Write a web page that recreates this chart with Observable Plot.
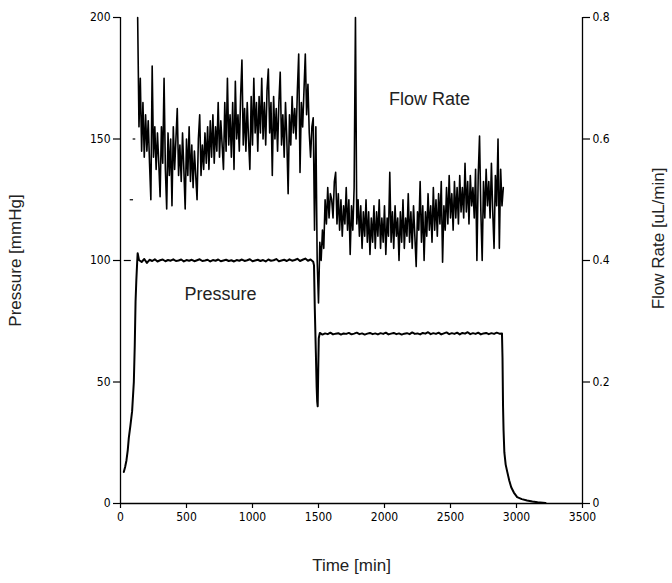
<!DOCTYPE html>
<html><head><meta charset="utf-8">
<script src="https://cdn.jsdelivr.net/npm/d3@7"></script>
<script src="https://cdn.jsdelivr.net/npm/@observablehq/plot@0.6"></script>
<style>
body{margin:0;background:#fff}
#chart{position:relative;width:672px;height:583px}
#chart svg{position:absolute;left:0;top:0}
</style>
</head><body><div id="chart"></div>
<script>
// ---- axes ----
const xTicks = [0, 500, 1000, 1500, 2000, 2500, 3000, 3500];
const pressureTicks = [0, 50, 100, 150, 200];
const flowTicks = [0, 0.2, 0.4, 0.6, 0.8];
const xTitle = "Time [min]";
const pressureTitle = "Pressure [mmHg]";
const flowTitle = "Flow Rate [uL/min]";

// ---- series labels in plot ----
const pressureLabel = {text: "Pressure", t: 758, v: 86};
const flowLabel = {text: "Flow Rate", t: 2341, v: 0.665};

// ---- pressure (mmHg) ----
const pressureTime = [
  25,35,45,55,63,75,88,101,108,114,120,126,130,
  140,160,180,200,220,240,260,280,300,320,340,360,380,400,420,440,460,480,500,520,540,560,580,600,620,640,660,680,700,720,740,760,780,800,820,840,860,880,900,920,940,960,980,1000,1020,1040,1060,1080,1100,1120,1140,1160,1180,1200,1220,1240,1260,1280,1300,1320,1340,1360,1380,1400,1420,1440,1460,
  1466,1472,1480,1486,1490,1494,1498,1502,
  1510,1530,1550,1570,1590,1610,1630,1650,1670,1690,1710,1730,1750,1770,1790,1810,1830,1850,1870,1890,1910,1930,1950,1970,1990,2010,2030,2050,2070,2090,2110,2130,2150,2170,2190,2210,2230,2250,2270,2290,2310,2330,2350,2370,2390,2410,2430,2450,2470,2490,2510,2530,2550,2570,2590,2610,2630,2650,2670,2690,2710,2730,2750,2770,2790,2810,2830,2850,2870,2890,
  2894,2898,2902,2908,2918,2930,2945,2960,2980,3005,3040,3080,3120,3160,3220
];
const pressureValue = [
  13,15,17.7,22,27,32,38,50,65,83,92,99,103,
  100.2,99.4,100.6,99.0,100.3,99.8,100.5,99.6,100.1,100.4,
  99.7,100.2,99.9,100.5,99.8,100.0,100.4,99.6,100.2,99.9,
  100.3,99.7,100.1,100.5,99.8,100.0,100.3,99.6,100.2,99.9,
  100.4,99.7,100.0,100.3,99.8,100.1,99.6,100.2,99.9,100.4,
  99.8,100.1,100.5,99.7,100.0,100.3,99.8,100.2,99.6,100.4,
  99.9,100.1,100.6,99.7,100.0,100.3,99.8,100.5,99.9,100.2,
  100.7,99.8,100.3,100.8,99.9,100.4,99.5,
  98,80,62,48,42,40,55,68,
  70.2,69.5,70.0,69.7,70.3,69.6,69.9,70.1,69.5,70.0,
  69.8,70.2,69.6,69.9,70.3,69.7,70.0,69.5,69.9,70.2,
  69.7,70.0,69.6,70.1,69.8,70.3,69.6,69.9,70.2,69.7,
  70.0,69.5,69.9,70.1,69.7,70.4,69.8,70.0,69.6,70.2,
  69.9,70.5,69.7,70.1,69.8,70.3,69.6,70.0,70.4,69.7,
  70.1,69.8,70.3,69.6,70.2,69.9,70.5,69.7,70.1,69.8,
  70.3,69.6,70.0,70.2,69.7,70.1,69.8,70.3,69.9,70.0,
  60,40,30,21,16,13,9.5,6.7,4.5,2.6,1.8,1.2,0.8,0.5,0.2
];

// ---- flow rate (uL/min) ----
const flowEarlyStart = [25, 70, 92];
const flowEarlyEnd = [78, 95, 112];
const flowEarlyValue = [0.4, 0.5, 0.6];

const flowTime = [
  130,140,150,160,170,180,190,
  200,210,220,230,240,250,260,270,280,290,
  300,310,320,330,340,350,360,370,380,390,
  400,410,420,430,440,450,460,470,480,490,
  500,510,520,530,540,550,560,570,580,590,
  600,610,620,630,640,650,660,670,680,690,
  700,710,720,730,740,750,760,770,780,790,
  800,810,820,830,840,850,860,870,880,890,
  900,910,920,930,940,950,960,970,980,990,
  1000,1010,1020,1030,1040,1050,1060,1070,1080,1090,
  1100,1110,1120,1130,1140,1150,1160,1170,1180,1190,
  1200,1210,1220,1230,1240,1250,1260,1270,1280,1290,
  1300,1310,1320,1330,1340,1350,1360,1370,1380,1390,
  1400,1410,1420,1430,1440,1450,1460,1470,1480,1490,
  1500,1510,1520,1530,1540,1550,1560,1570,1580,1590,
  1600,1610,1620,1630,1640,1650,1660,1670,1680,1690,
  1700,1710,1720,1730,1740,1750,1760,1770,1780,1790,
  1800,1810,1820,1830,1840,1850,1860,1870,1880,1890,
  1900,1910,1920,1930,1940,1950,1960,1970,1980,1990,
  2000,2010,2020,2030,2040,2050,2060,2070,2080,2090,
  2100,2110,2120,2130,2140,2150,2160,2170,2180,2190,
  2200,2210,2220,2230,2240,2250,2260,2270,2280,2290,
  2300,2310,2320,2330,2340,2350,2360,2370,2380,2390,
  2400,2410,2420,2430,2440,2450,2460,2470,2480,2490,
  2500,2510,2520,2530,2540,2550,2560,2570,2580,2590,
  2600,2610,2620,2630,2640,2650,2660,2670,2680,2690,
  2700,2710,2720,2730,2740,2750,2760,2770,2780,2790,
  2800,2810,2820,2830,2840,2850,2860,2870,2880,2890,
  2900
];
const flowRate = [
  0.80,0.62,0.70,0.58,0.66,0.57,0.64,
  0.58,0.63,0.56,0.50,0.72,0.57,0.62,0.55,0.61,0.56,
  0.505,0.62,0.56,0.70,0.55,0.485,0.61,0.54,0.60,0.49,
  0.62,0.55,0.60,0.65,0.54,0.59,0.53,0.61,0.55,0.485,
  0.60,0.54,0.62,0.53,0.59,0.52,0.58,0.54,0.50,0.60,
  0.64,0.54,0.59,0.55,0.61,0.56,0.62,0.55,0.63,0.57,
  0.64,0.56,0.62,0.58,0.66,0.57,0.63,0.59,0.55,0.66,
  0.58,0.70,0.59,0.64,0.57,0.66,0.55,0.695,0.60,0.64,
  0.58,0.67,0.73,0.59,0.65,0.58,0.66,0.60,0.55,0.67,
  0.59,0.70,0.61,0.66,0.58,0.67,0.61,0.70,0.60,0.66,
  0.59,0.68,0.715,0.61,0.66,0.54,0.67,0.60,0.65,0.58,
  0.66,0.71,0.59,0.64,0.57,0.66,0.60,0.51,0.64,0.59,
  0.67,0.61,0.65,0.60,0.68,0.74,0.545,0.66,0.62,0.68,
  0.74,0.64,0.69,0.61,0.57,0.62,0.635,0.45,0.62,0.40,
  0.33,0.43,0.40,0.45,0.42,0.50,0.46,0.52,0.47,0.51,
  0.50,0.47,0.53,0.545,0.46,0.51,0.45,0.50,0.44,0.49,
  0.46,0.52,0.45,0.50,0.41,0.49,0.45,0.52,0.80,0.46,
  0.50,0.44,0.49,0.42,0.48,0.44,0.50,0.43,0.48,0.41,
  0.47,0.43,0.49,0.42,0.48,0.44,0.50,0.42,0.47,0.43,
  0.49,0.41,0.47,0.44,0.545,0.43,0.48,0.42,0.49,0.44,
  0.47,0.40,0.48,0.43,0.50,0.42,0.47,0.44,0.51,0.43,
  0.48,0.42,0.49,0.44,0.39,0.48,0.45,0.53,0.43,0.49,
  0.40,0.48,0.44,0.51,0.45,0.49,0.43,0.52,0.45,0.50,
  0.44,0.51,0.46,0.53,0.397,0.49,0.45,0.52,0.46,0.54,
  0.47,0.51,0.45,0.53,0.47,0.52,0.46,0.54,0.48,0.52,
  0.47,0.56,0.48,0.53,0.46,0.54,0.49,0.52,0.47,0.55,
  0.40,0.54,0.605,0.48,0.40,0.53,0.47,0.55,0.49,0.53,
  0.47,0.56,0.48,0.42,0.54,0.49,0.60,0.42,0.55,0.49,
  0.52
];

// ---- build ----
const pressureRows = pressureTime.map((t, i) => ({t, v: pressureValue[i]}));
const flowRows = flowTime.map((t, i) => ({t, v: flowRate[i]}));
const flowEarlyRows = flowEarlyStart.map((t, i) => ({t1: t, t2: flowEarlyEnd[i], v: flowEarlyValue[i]}));

const tickFont = "'DejaVu Sans Condensed','Liberation Sans',Arial,sans-serif";
const titleFont = "'Liberation Sans',Arial,sans-serif";
const common = {
  width: 672, height: 583,
  marginLeft: 120, marginRight: 90, marginTop: 17, marginBottom: 80,
  style: {background: "transparent", fontFamily: tickFont, fontSize: "12px", color: "#000", overflow: "visible"}
};

const pressurePlot = Plot.plot({
  ...common,
  x: {domain: [0, 3500]},
  y: {domain: [0, 200]},
  marks: [
    Plot.ruleX([0], {stroke: "#000", strokeWidth: 1.3}),
    Plot.ruleY([0], {stroke: "#000", strokeWidth: 1.3}),
    Plot.axisX({ticks: xTicks, tickSize: 5, tickPadding: 4, tickFormat: d => String(d), label: null, strokeWidth: 1.2}),
    Plot.axisY({ticks: pressureTicks, tickSize: 7, tickPadding: 3, tickFormat: d => String(d), label: null, anchor: "left", strokeWidth: 1.2}),
    Plot.line(pressureRows, {x: "t", y: "v", stroke: "#000", strokeWidth: 2}),
    Plot.text([pressureLabel], {x: "t", y: "v", text: "text", fontSize: 18, fontFamily: titleFont, fill: "#222"}),
    Plot.text([pressureTitle], {text: d => d, frameAnchor: "left", textAnchor: "middle", dx: -105, rotate: -90, fontSize: 17, fontFamily: titleFont, fill: "#222"}),
    Plot.text([xTitle], {text: d => d, frameAnchor: "bottom", dy: 67, fontSize: 17, fontFamily: titleFont, fill: "#222"})
  ]
});

const flowPlot = Plot.plot({
  ...common,
  x: {domain: [0, 3500], axis: null},
  y: {domain: [0, 0.8]},
  marks: [
    Plot.ruleX([3500], {stroke: "#000", strokeWidth: 1.3}),
    Plot.axisY({ticks: flowTicks, tickSize: 7, tickPadding: 3, tickFormat: d => String(d), label: null, anchor: "right", strokeWidth: 1.2}),
    Plot.line(flowRows, {x: "t", y: "v", stroke: "#000", strokeWidth: 1.6}),
    Plot.link(flowEarlyRows, {x1: "t1", x2: "t2", y1: "v", y2: "v", stroke: "#000", strokeWidth: 1.2}),
    Plot.text([flowLabel], {x: "t", y: "v", text: "text", fontSize: 18, fontFamily: titleFont, fill: "#222"}),
    Plot.text([flowTitle], {text: d => d, frameAnchor: "right", textAnchor: "middle", dx: 76, dy: -22, rotate: -90, fontSize: 17, fontFamily: titleFont, fill: "#222"})
  ]
});

const chart = document.getElementById("chart");
chart.appendChild(pressurePlot);
chart.appendChild(flowPlot);
</script>
</body></html>
